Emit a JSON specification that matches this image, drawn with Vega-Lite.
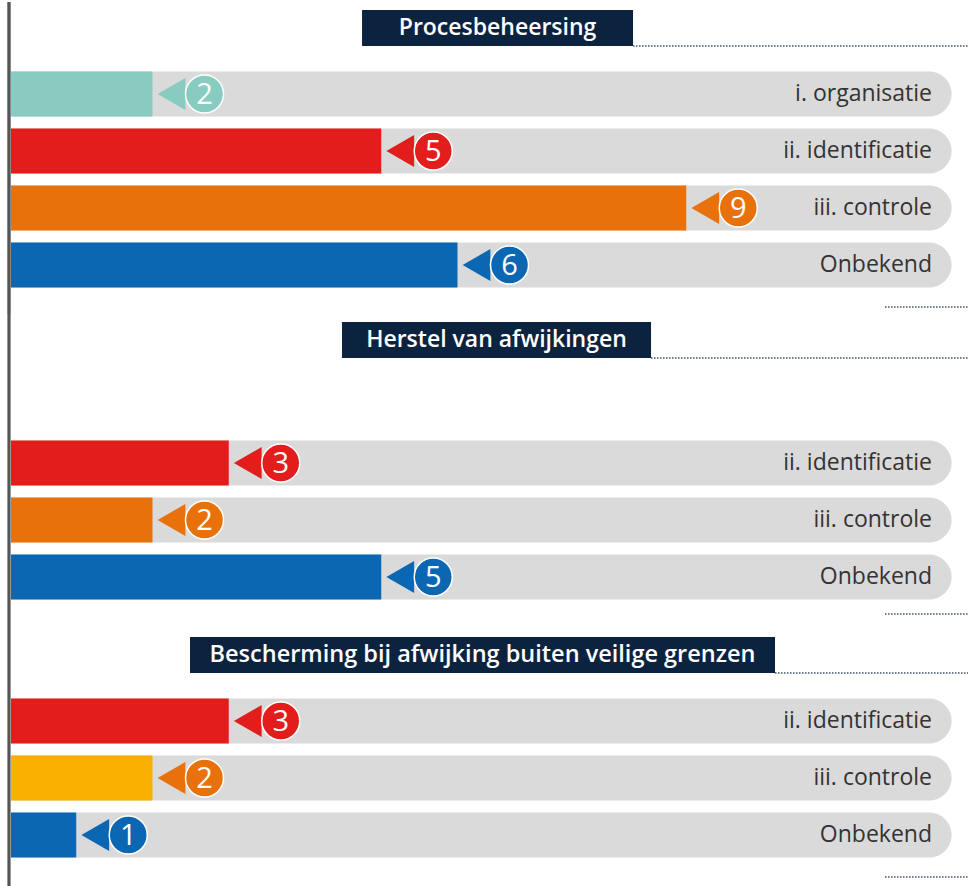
{
  "$schema": "https://vega.github.io/schema/vega-lite/v6.json",
  "padding": 0,
  "bounds": "flush",
  "spacing": 0,
  "background": "white",
  "config": {"view": {"stroke": null}, "concat": {"spacing": 0}},
  "datasets": {
    "rows": [
      {"section": "Procesbeheersing", "category": "i. organisatie", "value": 2},
      {"section": "Procesbeheersing", "category": "ii. identificatie", "value": 5},
      {"section": "Procesbeheersing", "category": "iii. controle", "value": 9},
      {"section": "Procesbeheersing", "category": "Onbekend", "value": 6},
      {"section": "Herstel van afwijkingen", "category": "ii. identificatie", "value": 3},
      {"section": "Herstel van afwijkingen", "category": "iii. controle", "value": 2},
      {"section": "Herstel van afwijkingen", "category": "Onbekend", "value": 5},
      {"section": "Bescherming bij afwijking buiten veilige grenzen", "category": "ii. identificatie", "value": 3},
      {"section": "Bescherming bij afwijking buiten veilige grenzen", "category": "iii. controle", "value": 2},
      {"section": "Bescherming bij afwijking buiten veilige grenzen", "category": "Onbekend", "value": 1}
    ],
    "headers": [
      {"title": "Procesbeheersing"},
      {"title": "Herstel van afwijkingen"},
      {"title": "Bescherming bij afwijking buiten veilige grenzen"}
    ]
  },
  "resolve": {"scale": {"x": "independent", "y": "independent"}},
  "vconcat": [
    {
      "width": 968,
      "height": 312,
      "data": {"name": "rows"},
      "transform": [{"filter": "datum.section === 'Procesbeheersing'"}],
      "layer": [
        {
          "mark": {"type": "rect", "color": "#dadada", "cornerRadiusTopRight": 22.5, "cornerRadiusBottomRight": 22.5},
          "encoding": {
            "x": {"datum": 0.144, "type": "quantitative", "scale": {"domain": [0, 12.695], "nice": false, "zero": false}, "axis": null},
            "x2": {"datum": 12.48},
            "y": {"field": "category", "type": "nominal", "axis": null, "scale": {"domain": ["Procesbeheersing", "i. organisatie", "ii. identificatie", "iii. controle", "Onbekend"], "range": [12.5, 285.5], "paddingInner": 0.2105, "paddingOuter": 0}}
          }
        },
        {
          "mark": {"type": "rect"},
          "encoding": {
            "x": {"field": "value", "type": "quantitative"},
            "x2": {"datum": 0.144},
            "y": {"field": "category", "type": "nominal"},
            "color": {"field": "category", "type": "nominal", "legend": null, "scale": {"domain": ["i. organisatie", "ii. identificatie", "iii. controle", "Onbekend"], "range": ["#88cbc0", "#e21d1b", "#e9710b", "#0b67b2"]}}
          }
        },
        {
          "mark": {"type": "point", "shape": "triangle-left", "size": 1024, "filled": true, "opacity": 1, "xOffset": 19},
          "encoding": {
            "x": {"field": "value", "type": "quantitative"},
            "y": {"field": "category", "type": "nominal"},
            "color": {"field": "category", "type": "nominal", "legend": null}
          }
        },
        {
          "mark": {"type": "point", "shape": "circle", "size": 1444, "filled": true, "opacity": 1, "stroke": "white", "strokeWidth": 1.5, "xOffset": 52},
          "encoding": {
            "x": {"field": "value", "type": "quantitative"},
            "y": {"field": "category", "type": "nominal"},
            "color": {"field": "category", "type": "nominal", "legend": null}
          }
        },
        {
          "mark": {"type": "text", "xOffset": 52, "dy": 1, "color": "white", "fontSize": 29, "font": "Open Sans", "align": "center", "baseline": "middle"},
          "encoding": {
            "x": {"field": "value", "type": "quantitative"},
            "y": {"field": "category", "type": "nominal"},
            "text": {"field": "value", "type": "quantitative"}
          }
        },
        {
          "mark": {"type": "text", "align": "right", "baseline": "middle", "color": "#333333", "fontSize": 23, "font": "Open Sans"},
          "encoding": {
            "x": {"datum": 12.223, "type": "quantitative"},
            "y": {"field": "category", "type": "nominal"},
            "text": {"field": "category", "type": "nominal"}
          }
        },
        {
          "transform": [{"filter": "datum.category === 'Onbekend'"}],
          "mark": {"type": "rule", "color": "#3d4f6a", "strokeDash": [1.5, 1.5], "strokeWidth": 1.5, "yOffset": 42},
          "encoding": {
            "x": {"datum": 11.607, "type": "quantitative"},
            "x2": {"datum": 12.695},
            "y": {"field": "category", "type": "nominal"}
          }
        },
        {
          "data": {"name": "headers"},
          "transform": [{"filter": "datum.title === 'Procesbeheersing'"}],
          "mark": {"type": "rect", "color": "#0c2340", "height": 36, "yOffset": -9},
          "encoding": {
            "x": {"datum": 4.748, "type": "quantitative"},
            "x2": {"datum": 8.302},
            "y": {"field": "title", "type": "nominal"}
          }
        },
        {
          "data": {"name": "headers"},
          "transform": [{"filter": "datum.title === 'Procesbeheersing'"}],
          "mark": {"type": "text", "color": "white", "fontWeight": 600, "fontSize": 23, "font": "Open Sans", "align": "center", "baseline": "middle", "yOffset": -9},
          "encoding": {
            "x": {"datum": 6.525, "type": "quantitative"},
            "y": {"field": "title", "type": "nominal"},
            "text": {"field": "title", "type": "nominal"}
          }
        },
        {
          "data": {"name": "headers"},
          "transform": [{"filter": "datum.title === 'Procesbeheersing'"}],
          "mark": {"type": "rule", "color": "#3d4f6a", "strokeDash": [1.5, 1.5], "strokeWidth": 1.5, "yOffset": 9},
          "encoding": {
            "x": {"datum": 8.302, "type": "quantitative"},
            "x2": {"datum": 12.695},
            "y": {"field": "title", "type": "nominal"}
          }
        },
        {
          "mark": {"type": "rule", "color": "#555555", "strokeWidth": 2.5},
          "encoding": {"x": {"datum": 0.118, "type": "quantitative"}}
        }
      ]
    },
    {
      "width": 968,
      "height": 315,
      "data": {"name": "rows"},
      "transform": [{"filter": "datum.section === 'Herstel van afwijkingen'"}],
      "layer": [
        {
          "mark": {"type": "rect", "color": "#dadada", "cornerRadiusTopRight": 22.5, "cornerRadiusBottomRight": 22.5},
          "encoding": {
            "x": {"datum": 0.144, "type": "quantitative", "scale": {"domain": [0, 12.695], "nice": false, "zero": false}, "axis": null},
            "x2": {"datum": 12.48},
            "y": {"field": "category", "type": "nominal", "axis": null, "scale": {"domain": ["Herstel van afwijkingen", "i. organisatie", "ii. identificatie", "iii. controle", "Onbekend"], "range": [12.5, 285.5], "paddingInner": 0.2105, "paddingOuter": 0}}
          }
        },
        {
          "mark": {"type": "rect"},
          "encoding": {
            "x": {"field": "value", "type": "quantitative"},
            "x2": {"datum": 0.144},
            "y": {"field": "category", "type": "nominal"},
            "color": {"field": "category", "type": "nominal", "legend": null, "scale": {"domain": ["i. organisatie", "ii. identificatie", "iii. controle", "Onbekend"], "range": ["#88cbc0", "#e21d1b", "#e9710b", "#0b67b2"]}}
          }
        },
        {
          "mark": {"type": "point", "shape": "triangle-left", "size": 1024, "filled": true, "opacity": 1, "xOffset": 19},
          "encoding": {
            "x": {"field": "value", "type": "quantitative"},
            "y": {"field": "category", "type": "nominal"},
            "color": {"field": "category", "type": "nominal", "legend": null}
          }
        },
        {
          "mark": {"type": "point", "shape": "circle", "size": 1444, "filled": true, "opacity": 1, "stroke": "white", "strokeWidth": 1.5, "xOffset": 52},
          "encoding": {
            "x": {"field": "value", "type": "quantitative"},
            "y": {"field": "category", "type": "nominal"},
            "color": {"field": "category", "type": "nominal", "legend": null}
          }
        },
        {
          "mark": {"type": "text", "xOffset": 52, "dy": 1, "color": "white", "fontSize": 29, "font": "Open Sans", "align": "center", "baseline": "middle"},
          "encoding": {
            "x": {"field": "value", "type": "quantitative"},
            "y": {"field": "category", "type": "nominal"},
            "text": {"field": "value", "type": "quantitative"}
          }
        },
        {
          "mark": {"type": "text", "align": "right", "baseline": "middle", "color": "#333333", "fontSize": 23, "font": "Open Sans"},
          "encoding": {
            "x": {"datum": 12.223, "type": "quantitative"},
            "y": {"field": "category", "type": "nominal"},
            "text": {"field": "category", "type": "nominal"}
          }
        },
        {
          "transform": [{"filter": "datum.category === 'Onbekend'"}],
          "mark": {"type": "rule", "color": "#3d4f6a", "strokeDash": [1.5, 1.5], "strokeWidth": 1.5, "yOffset": 37},
          "encoding": {
            "x": {"datum": 11.607, "type": "quantitative"},
            "x2": {"datum": 12.695},
            "y": {"field": "category", "type": "nominal"}
          }
        },
        {
          "data": {"name": "headers"},
          "transform": [{"filter": "datum.title === 'Herstel van afwijkingen'"}],
          "mark": {"type": "rect", "color": "#0c2340", "height": 36, "yOffset": -9},
          "encoding": {
            "x": {"datum": 4.485, "type": "quantitative"},
            "x2": {"datum": 8.538},
            "y": {"field": "title", "type": "nominal"}
          }
        },
        {
          "data": {"name": "headers"},
          "transform": [{"filter": "datum.title === 'Herstel van afwijkingen'"}],
          "mark": {"type": "text", "color": "white", "fontWeight": 600, "fontSize": 23, "font": "Open Sans", "align": "center", "baseline": "middle", "yOffset": -9},
          "encoding": {
            "x": {"datum": 6.511, "type": "quantitative"},
            "y": {"field": "title", "type": "nominal"},
            "text": {"field": "title", "type": "nominal"}
          }
        },
        {
          "data": {"name": "headers"},
          "transform": [{"filter": "datum.title === 'Herstel van afwijkingen'"}],
          "mark": {"type": "rule", "color": "#3d4f6a", "strokeDash": [1.5, 1.5], "strokeWidth": 1.5, "yOffset": 9},
          "encoding": {
            "x": {"datum": 8.538, "type": "quantitative"},
            "x2": {"datum": 12.695},
            "y": {"field": "title", "type": "nominal"}
          }
        },
        {
          "mark": {"type": "rule", "color": "#555555", "strokeWidth": 2.5},
          "encoding": {"x": {"datum": 0.118, "type": "quantitative"}}
        }
      ]
    },
    {
      "width": 968,
      "height": 259,
      "data": {"name": "rows"},
      "transform": [{"filter": "datum.section === 'Bescherming bij afwijking buiten veilige grenzen'"}],
      "layer": [
        {
          "mark": {"type": "rect", "color": "#dadada", "cornerRadiusTopRight": 22.5, "cornerRadiusBottomRight": 22.5},
          "encoding": {
            "x": {"datum": 0.144, "type": "quantitative", "scale": {"domain": [0, 12.695], "nice": false, "zero": false}, "axis": null},
            "x2": {"datum": 12.48},
            "y": {"field": "category", "type": "nominal", "axis": null, "scale": {"domain": ["Bescherming bij afwijking buiten veilige grenzen", "ii. identificatie", "iii. controle", "Onbekend"], "range": [12.5, 228.5], "paddingInner": 0.2105, "paddingOuter": 0}}
          }
        },
        {
          "mark": {"type": "rect"},
          "encoding": {
            "x": {"field": "value", "type": "quantitative"},
            "x2": {"datum": 0.144},
            "y": {"field": "category", "type": "nominal"},
            "color": {
              "condition": {"test": "datum.category === 'iii. controle'", "value": "#f9b000"},
              "field": "category", "type": "nominal", "legend": null,
              "scale": {"domain": ["i. organisatie", "ii. identificatie", "iii. controle", "Onbekend"], "range": ["#88cbc0", "#e21d1b", "#e9710b", "#0b67b2"]}
            }
          }
        },
        {
          "mark": {"type": "point", "shape": "triangle-left", "size": 1024, "filled": true, "opacity": 1, "xOffset": 19},
          "encoding": {
            "x": {"field": "value", "type": "quantitative"},
            "y": {"field": "category", "type": "nominal"},
            "color": {"field": "category", "type": "nominal", "legend": null}
          }
        },
        {
          "mark": {"type": "point", "shape": "circle", "size": 1444, "filled": true, "opacity": 1, "stroke": "white", "strokeWidth": 1.5, "xOffset": 52},
          "encoding": {
            "x": {"field": "value", "type": "quantitative"},
            "y": {"field": "category", "type": "nominal"},
            "color": {"field": "category", "type": "nominal", "legend": null}
          }
        },
        {
          "mark": {"type": "text", "xOffset": 52, "dy": 1, "color": "white", "fontSize": 29, "font": "Open Sans", "align": "center", "baseline": "middle"},
          "encoding": {
            "x": {"field": "value", "type": "quantitative"},
            "y": {"field": "category", "type": "nominal"},
            "text": {"field": "value", "type": "quantitative"}
          }
        },
        {
          "mark": {"type": "text", "align": "right", "baseline": "middle", "color": "#333333", "fontSize": 23, "font": "Open Sans"},
          "encoding": {
            "x": {"datum": 12.223, "type": "quantitative"},
            "y": {"field": "category", "type": "nominal"},
            "text": {"field": "category", "type": "nominal"}
          }
        },
        {
          "transform": [{"filter": "datum.category === 'Onbekend'"}],
          "mark": {"type": "rule", "color": "#3d4f6a", "strokeDash": [1.5, 1.5], "strokeWidth": 1.5, "yOffset": 42},
          "encoding": {
            "x": {"datum": 11.607, "type": "quantitative"},
            "x2": {"datum": 12.695},
            "y": {"field": "category", "type": "nominal"}
          }
        },
        {
          "data": {"name": "headers"},
          "transform": [{"filter": "datum.title === 'Bescherming bij afwijking buiten veilige grenzen'"}],
          "mark": {"type": "rect", "color": "#0c2340", "height": 36, "yOffset": -9},
          "encoding": {
            "x": {"datum": 2.492, "type": "quantitative"},
            "x2": {"datum": 10.164},
            "y": {"field": "title", "type": "nominal"}
          }
        },
        {
          "data": {"name": "headers"},
          "transform": [{"filter": "datum.title === 'Bescherming bij afwijking buiten veilige grenzen'"}],
          "mark": {"type": "text", "color": "white", "fontWeight": 600, "fontSize": 23.5, "font": "Open Sans", "align": "center", "baseline": "middle", "yOffset": -9},
          "encoding": {
            "x": {"datum": 6.328, "type": "quantitative"},
            "y": {"field": "title", "type": "nominal"},
            "text": {"field": "title", "type": "nominal"}
          }
        },
        {
          "data": {"name": "headers"},
          "transform": [{"filter": "datum.title === 'Bescherming bij afwijking buiten veilige grenzen'"}],
          "mark": {"type": "rule", "color": "#3d4f6a", "strokeDash": [1.5, 1.5], "strokeWidth": 1.5, "yOffset": 9},
          "encoding": {
            "x": {"datum": 10.164, "type": "quantitative"},
            "x2": {"datum": 12.695},
            "y": {"field": "title", "type": "nominal"}
          }
        },
        {
          "mark": {"type": "rule", "color": "#555555", "strokeWidth": 2.5},
          "encoding": {"x": {"datum": 0.118, "type": "quantitative"}}
        }
      ]
    }
  ]
}
